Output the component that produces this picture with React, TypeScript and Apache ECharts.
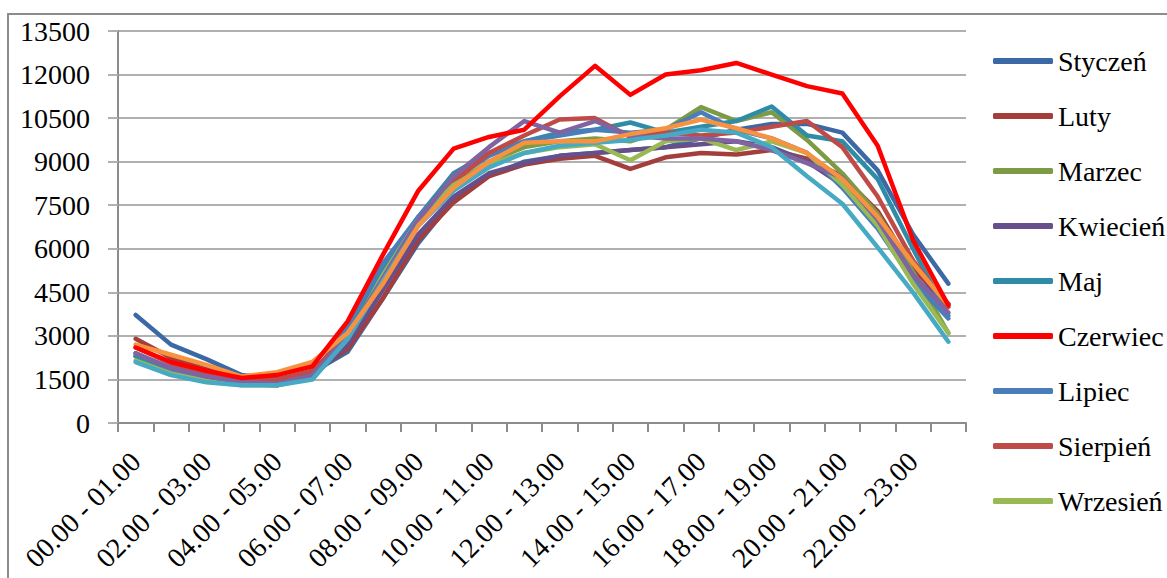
import React, { useEffect, useRef } from "react";
import * as echarts from "echarts";

const categories = [
  "00.00 - 01.00", "01.00 - 02.00", "02.00 - 03.00", "03.00 - 04.00",
  "04.00 - 05.00", "05.00 - 06.00", "06.00 - 07.00", "07.00 - 08.00",
  "08.00 - 09.00", "09.00 - 10.00", "10.00 - 11.00", "11.00 - 12.00",
  "12.00 - 13.00", "13.00 - 14.00", "14.00 - 15.00", "15.00 - 16.00",
  "16.00 - 17.00", "17.00 - 18.00", "18.00 - 19.00", "19.00 - 20.00",
  "20.00 - 21.00", "21.00 - 22.00", "22.00 - 23.00", "23.00 - 24.00",
];

const styczen = [3720, 2700, 2200, 1650, 1500, 1750, 2450, 4300, 6200, 7700, 8500, 9000, 9200, 9300, 9400, 9500, 9800, 10100, 10300, 10300, 10000, 8700, 6500, 4800];
const luty = [2900, 2250, 1850, 1500, 1450, 1750, 2550, 4300, 6300, 7600, 8500, 8900, 9100, 9200, 8750, 9150, 9300, 9250, 9400, 9100, 8500, 7300, 5300, 4100];
const marzec = [2400, 1850, 1550, 1400, 1400, 1600, 2800, 5000, 7000, 8200, 9000, 9500, 9700, 9800, 9700, 10100, 10880, 10400, 10700, 9750, 8600, 7200, 5200, 3100];
const kwiecien = [2300, 1800, 1500, 1350, 1300, 1600, 2700, 4600, 6500, 7800, 8600, 8950, 9200, 9300, 9400, 9500, 9600, 9700, 9500, 9000, 8200, 6900, 5000, 4100];
const maj = [2300, 1750, 1500, 1350, 1350, 1600, 3100, 5300, 7100, 8600, 9300, 9700, 10000, 10100, 10350, 10000, 10200, 10400, 10900, 9900, 9700, 8400, 6000, 3700];
const czerwiec = [2600, 2100, 1800, 1550, 1650, 1950, 3500, 5800, 8000, 9450, 9850, 10100, 11250, 12300, 11300, 12000, 12150, 12400, 12000, 11600, 11350, 9550, 6300, 4050];
const lipiec = [2400, 1850, 1550, 1350, 1300, 1600, 3300, 5500, 7100, 8400, 9200, 9700, 9900, 10100, 10000, 10100, 10700, 10100, 9800, 9300, 8100, 6700, 4900, 3600];
const sierpien = [2600, 2050, 1700, 1450, 1500, 1800, 3000, 4900, 6900, 8300, 9300, 9900, 10450, 10500, 9850, 10000, 9900, 10000, 10200, 10400, 9500, 7800, 5600, 4000];
const wrzesien = [2150, 1700, 1450, 1300, 1300, 1550, 2900, 5100, 7000, 8200, 8900, 9300, 9500, 9600, 9050, 9700, 9800, 9400, 9700, 9300, 8200, 6800, 4800, 3100];
const pazdziernik = [2400, 1900, 1600, 1400, 1350, 1650, 3000, 5000, 7000, 8500, 9500, 10400, 10000, 10400, 9900, 9800, 9800, 9700, 9400, 8950, 8450, 7000, 5100, 3800];
const listopad = [2100, 1650, 1400, 1300, 1300, 1500, 2900, 4900, 6800, 8000, 8800, 9300, 9550, 9650, 9750, 9900, 10100, 10000, 9500, 8500, 7550, 6050, 4500, 2800];
const grudzien = [2700, 2350, 2000, 1600, 1750, 2100, 3100, 4800, 6800, 8100, 9000, 9650, 9700, 9700, 9950, 10150, 10450, 10150, 9800, 9300, 8400, 7100, 5500, 4050];

const seriesNames = ["Styczeń", "Luty", "Marzec", "Kwiecień", "Maj", "Czerwiec", "Lipiec", "Sierpień", "Wrzesień", "Październik", "Listopad", "Grudzień"];
const seriesData = [styczen, luty, marzec, kwiecien, maj, czerwiec, lipiec, sierpien, wrzesien, pazdziernik, listopad, grudzien];
const seriesColors = ["#3C69A6", "#A33E3B", "#7D9A45", "#664F8A", "#2E8CA6", "#FF0000", "#4A7EBB", "#BE4B48", "#98B954", "#8064A2", "#46AAC5", "#F69240"];
const legendNames = seriesNames.slice(0, 9);

const FONT = "Times New Roman, Liberation Serif, DejaVu Serif, serif";

export default function App() {
  const ref = useRef<HTMLDivElement>(null);
  useEffect(() => {
    document.body.style.margin = "0";
    if (!ref.current) return;
    const chart = echarts.init(ref.current, null, { renderer: "svg" });
    chart.setOption({
      animation: false,
      backgroundColor: "#ffffff",
      textStyle: { fontFamily: FONT },
      graphic: [
        {
          type: "rect",
          shape: { x: 8, y: 14, width: 1300, height: 700 },
          style: { fill: "none", stroke: "#8c8c8c", lineWidth: 2 },
          silent: true,
        },
      ],
      grid: { left: 118, right: 201, top: 31, bottom: 155, containLabel: false },
      legend: {
        data: legendNames,
        orient: "vertical",
        left: 993,
        top: 46,
        padding: 0,
        icon: "roundRect",
        itemWidth: 60,
        itemHeight: 6,
        itemGap: 25,
        textStyle: { fontFamily: FONT, fontSize: 28, color: "#000", lineHeight: 30 },
      },
      xAxis: {
        type: "category",
        data: categories,
        boundaryGap: true,
        axisLine: { lineStyle: { color: "#8c8c8c", width: 2 } },
        axisTick: { show: true, interval: 0, length: 9, lineStyle: { color: "#8c8c8c", width: 2 } },
        axisLabel: {
          interval: 1,
          rotate: 45,
          margin: 34,
          fontFamily: FONT,
          fontSize: 28,
          color: "#000",
        },
        splitLine: { show: false },
      },
      yAxis: {
        type: "value",
        min: 0,
        max: 13500,
        interval: 1500,
        axisLine: { show: true, lineStyle: { color: "#8c8c8c", width: 2 } },
        axisTick: { show: true, inside: false, length: 10, lineStyle: { color: "#b0b0b0", width: 2 } },
        axisLabel: {
          margin: 28,
          fontFamily: FONT,
          fontSize: 28,
          color: "#000",
          formatter: (v: number) => String(v),
        },
        splitLine: { show: true, lineStyle: { color: "#b0b0b0", width: 2 } },
      },
      series: seriesNames.map((name, i) => ({
        name,
        type: "line",
        data: seriesData[i],
        symbol: "none",
        smooth: false,
        z: name === "Czerwiec" ? 4 : 2,
        lineStyle: { color: seriesColors[i], width: 4.5, cap: "round", join: "round" },
        itemStyle: { color: seriesColors[i] },
      })),
    });
    return () => chart.dispose();
  }, []);
  return <div ref={ref} style={{ width: 1167, height: 578 }} />;
}
